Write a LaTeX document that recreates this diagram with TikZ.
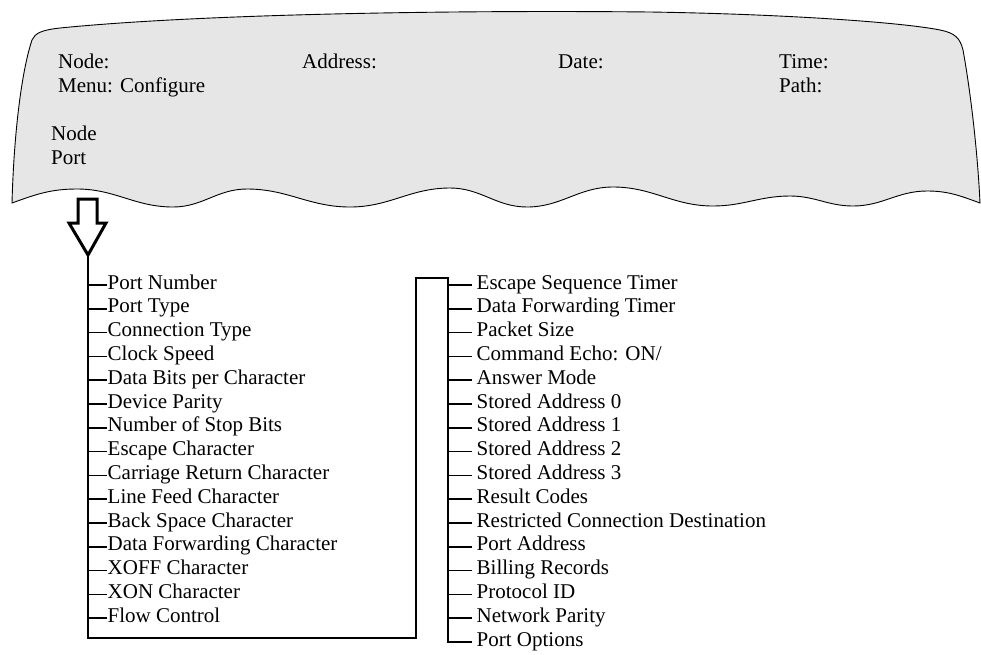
\documentclass[tikz,border=0pt]{standalone}
\usepackage{fontspec}
\setmainfont{Liberation Serif}
\definecolor{bannerfill}{RGB}{230,230,230}
\begin{document}
\begin{tikzpicture}[x=1pt,y=1pt,
  txt/.style={inner sep=0pt, font=\fontsize{21}{24}\selectfont, anchor=base west},
  litem/.style={inner ysep=0pt, inner xsep=0.5pt, text height=14pt, text depth=6pt, font=\fontsize{21}{24}\selectfont, anchor=west},
  ritem/.style={inner ysep=0pt, inner xsep=4.5pt, text height=14pt, text depth=6pt, font=\fontsize{21}{24}\selectfont, anchor=west},
  tree/.style={line width=1.6pt},
  banner/.style={fill=bannerfill, draw=black, line width=0.9pt},
  bigarrow/.style={draw=black, fill=white, line width=3pt, miter limit=10}]
\useasboundingbox (0,0) rectangle (981,-654);

% banner
\path[banner] (12,-203) .. controls (14,-130) and (22,-70) .. (32,-40)
  .. controls (35,-33) and (42,-30) .. (60,-28)
  .. controls (200,-14) and (450,-10) .. (650,-12)
  .. controls (780,-14) and (900,-22) .. (940,-30)
  .. controls (955,-33) and (960,-38) .. (963,-50)
  .. controls (972,-100) and (978,-160) .. (980,-203)
  to[out=160,in=0] (927,-191) to[out=180,in=0] (853,-206)
  to[out=180,in=0] (790,-196) to[out=180,in=0] (713,-206)
  to[out=180,in=0] (613,-187) to[out=180,in=0] (527,-207)
  to[out=180,in=0] (450,-188) to[out=180,in=0] (350,-207)
  to[out=180,in=0] (247,-189) to[out=180,in=0] (173,-207)
  to[out=180,in=0] (77,-189) to[out=180,in=20] (12,-203) -- cycle;

\node[txt] (node) at (58,-68) {Node:};
\node[txt] (addr) at (302,-68) {Address:};
\node[txt] (date) at (558,-68) {Date:};
\node[txt] (time) at (779,-68) {Time:};
\node[txt] (menu) at (58,-92) {Menu: Configure};
\node[txt] (path) at (779,-92) {Path:};
\node[txt] (nd) at (51,-140) {Node};
\node[txt] (pt) at (51,-164) {Port};

% big arrow
\path[bigarrow] (78,-199) -- (97,-199) -- (97,-223) -- (106,-223) -- (88,-255)
  -- (69,-223) -- (78,-223) -- cycle;
\coordinate (tip) at (88,-255);

% left list
\foreach \t [count=\i from 0] in {Port Number, Port Type, Connection Type, Clock Speed,
  Data Bits per Character, Device Parity, Number of Stop Bits, Escape Character,
  Carriage Return Character, Line Feed Character, Back Space Character,
  Data Forwarding Character, XOFF Character, XON Character, Flow Control} {
  \coordinate (lb\i) at (88,{-285-23.8*\i});
  \node[litem] (L\i) at (107,{-285-23.8*\i}) {\t};
  \draw[tree] (lb\i) -- (L\i.west);
}

% right list
\foreach \t [count=\i from 0] in {Escape Sequence Timer, Data Forwarding Timer, Packet Size,
  Command Echo: ON/, Answer Mode, Stored Address 0, Stored Address 1, Stored Address 2,
  Stored Address 3, Result Codes, Restricted Connection Destination, Port Address,
  Billing Records, Protocol ID, Network Parity, Port Options} {
  \coordinate (rb\i) at (448,{-285-23.8*\i});
  \node[ritem] (R\i) at (472,{-285-23.8*\i}) {\t};
}
\foreach \i in {0,...,14} { \draw[tree] (rb\i) -- (R\i.west); }

\coordinate (c1) at (88,-638);
\coordinate (c2) at (416,-638);
\coordinate (c3) at (416,-278);
\coordinate (c4) at (448,-278);
\draw[tree] (tip) -- (c1) -- (c2) -- (c3) -- (c4) -- (rb15) -- (R15.west);
\end{tikzpicture}
\end{document}
